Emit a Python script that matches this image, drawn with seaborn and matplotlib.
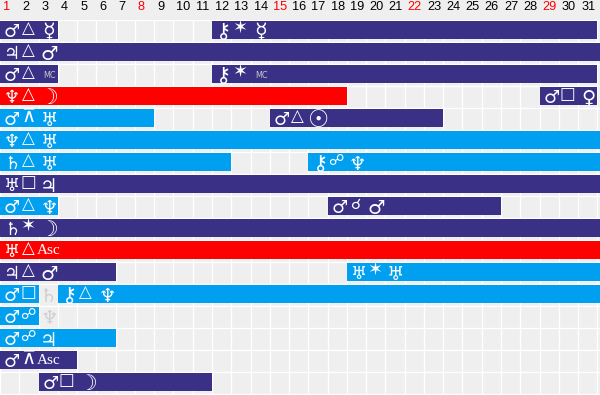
import matplotlib
matplotlib.use("Agg")
import matplotlib.pyplot as plt
import seaborn as sns

NAVY = "#3a3086"
BLUE = "#009ff0"
RED = "#ff0000"

days = list(range(1, 32))
red_days = [1, 8, 15, 22, 29]

rows = [0, 0, 1, 2, 2, 3, 3, 4, 4, 5, 6, 6, 7, 8, 8, 9, 10, 11, 11, 12, 12, 13, 14, 15, 16]
starts = [0, 11, 0, 0, 11, 0, 28, 0, 14, 0, 0, 16, 0, 0, 17, 0, 0, 0, 18, 0, 3, 0, 0, 0, 2]
ends = [3, 31, 31.2, 3, 31, 18, 31, 8, 23, 31.2, 12, 31.2, 31.2, 3, 26, 31.2, 31.2, 6,
        31.2, 2, 31.2, 2, 6, 4, 11]
colors = [NAVY, NAVY, NAVY, NAVY, NAVY, RED, NAVY, BLUE, NAVY, BLUE, BLUE, BLUE, NAVY,
          BLUE, NAVY, NAVY, RED, NAVY, BLUE, BLUE, BLUE, BLUE, BLUE, NAVY, NAVY]
first = list("♂⚷♃♂⚷♆♂♂♂♆♄⚷♅♂♂♄♅♃♅♂⚷♂♂♂♂")
aspect = list("△✶△△✶△□⊼△△△☍□△☌✶△△✶□△☍☍⊼□")
third = ["☿", "☿", "♂", "MC", "MC", "☽", "♀", "♅", "☉", "♅", "♅", "♆", "♃", "♆", "♂",
         "☽", "Asc", "♂", "♅", "♄", "♆", "♆", "♃", "Asc", "☽"]
faded = [19, 21]

glyph_size = {"⚷": 15, "✶": 13, "☿": 15, "♀": 14, "☽": 15, "☉": 17, "⊼": 14, "☍": 11, "☌": 11}

PITCH = 19.27
ROW = 22.0

sns.set_theme(style="whitegrid", rc={"axes.facecolor": "#efefef", "grid.color": "white",
                                     "grid.linewidth": 0.95, "axes.axisbelow": True})
plt.rcParams["font.family"] = ["DejaVu Sans", "Noto Sans CJK SC"]

fig = plt.figure(figsize=(6.0, 3.95), dpi=100, facecolor="#efefef")
ax = fig.add_axes([0, 0, 1, 1])

for r, s, e, c in zip(rows, starts, ends, colors):
    sns.barplot(x=[e - s], y=[r], left=s, orient="h", native_scale=True, color=c,
                saturation=1, width=18 / ROW, errorbar=None, linewidth=0, ax=ax)

ax.set_xlim(0, 600 / PITCH)
ax.set_ylim((395 - 30) / ROW, -30 / ROW)
ax.set_xticks(range(0, 32))
ax.set_yticks([k - 10 / ROW for k in range(0, 18)])
ax.tick_params(length=0, labelbottom=False, labelleft=False)
ax.set_xlabel("")
ax.set_ylabel("")
ax.grid(True)
for sp in ax.spines.values():
    sp.set_visible(False)

# Header strip hides the grid behind the day numbers
ax.axhspan(-30 / ROW, -10 / ROW, color="#efefef", lw=0, zorder=1)

for d in days:
    ax.annotate(str(d), xy=(d - 1, -30 / ROW), xytext=(3, -7), textcoords="offset pixels",
                ha="left", va="center", fontsize=9.2, family=["Liberation Sans"],
                color="red" if d in red_days else "black", zorder=5)

for i, (r, s) in enumerate(zip(rows, starts)):
    g3 = third[i]
    col3 = "#cfcfcf" if i in faded else "white"
    kw = dict(xy=(s, r), textcoords="offset pixels", ha="center", va="center", zorder=6,
              annotation_clip=False)
    ax.annotate(first[i], xytext=(12, -2), color="white",
                fontsize=glyph_size.get(first[i], 13), **kw)
    ax.annotate(aspect[i], xytext=(28, 2), color="white",
                fontsize=glyph_size.get(aspect[i], 12), **kw)
    if g3 == "MC":
        ax.annotate(g3, xytext=(50, -1), color="#c8c8c8", fontsize=6.5,
                    family=["DejaVu Sans"], stretch="condensed", **kw)
    elif g3 == "Asc":
        ax.annotate(g3, xytext=(49, 0), color="white", fontsize=11,
                    family=["Liberation Serif"], **kw)
    else:
        ax.annotate(g3, xytext=(49, -2), color=col3, fontsize=glyph_size.get(g3, 14), **kw)

fig.savefig("out.png", dpi=100, facecolor=fig.get_facecolor())
